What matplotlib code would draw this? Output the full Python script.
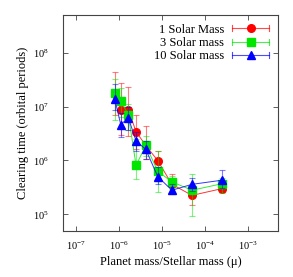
import matplotlib
matplotlib.use('Agg')
import matplotlib.pyplot as plt
from matplotlib.legend_handler import HandlerBase
from matplotlib.lines import Line2D
import numpy as np

plt.rcParams['font.family'] = ['Liberation Serif', 'DejaVu Serif']
plt.rcParams['mathtext.fontset'] = 'stix'

# planet/star mass ratio (same for all series)
mu = [8e-7, 1.1e-6, 1.65e-6, 2.5e-6, 4.2e-6, 8e-6, 1.7e-5, 5e-5, 2.5e-4]

labels = ['1 Solar Mass', '3 Solar mass', '10 Solar mass']

t_1 = [1.7e7, 8.8e6, 8.8e6, 3.4e6, 1.9e6, 9.9e5, 3.6e5, 2.25e5, 3.0e5]
lo_1 = [7.1e6, 3.0e6, 2.8e6, 1.6e6, 1.05e6, 6.8e5, 2.35e5, 1.47e5, 2.6e5]
hi_1 = [4.3e7, 2.75e7, 2.28e7, 7.1e6, 4.3e6, 1.47e6, 5.7e5, 3.4e5, 4.1e5]

t_3 = [1.8e7, 1.25e7, 7.1e6, 8.1e5, 1.9e6, 6.3e5, 4.0e5, 2.8e5, 3.7e5]
lo_3 = [5.7e6, 6.3e6, 3.7e6, 4.6e5, 1.2e6, 2.6e5, 3.0e5, 9.3e4, 2.45e5]
hi_3 = [3.2e7, 2.2e7, 1.1e7, 2.45e6, 2.8e6, 1.48e6, 5.2e5, 5.5e5, 4.8e5]

t_10 = [1.4e7, 4.6e6, 6.2e6, 2.3e6, 1.6e6, 5.0e5, 2.8e5, 3.6e5, 4.3e5]
lo_10 = [8.5e6, 2.7e6, 3.7e6, 1.48e6, 1.05e6, 3.6e5, 2.6e5, 2.7e5, 3.1e5]
hi_10 = [2.6e7, 7.7e6, 9.6e6, 3.3e6, 2.3e6, 7.4e5, 3.6e5, 4.8e5, 6.6e5]

colors = ['#ff0000', '#00e600', '#0000ff']
markers = ['o', 's', '^']


class HandlerGnuplot(HandlerBase):
    '''legend sample: horizontal line with end caps and a marker'''
    def __init__(self, color, marker):
        super().__init__()
        self.color = color
        self.marker = marker

    def create_artists(self, legend, orig_handle, xdescent, ydescent,
                       width, height, fontsize, trans):
        y = height / 2 - ydescent
        c = height * 0.35
        arts = [Line2D([0, width], [y, y], color=self.color, lw=0.8, alpha=0.7),
                Line2D([0, 0], [y - c, y + c], color=self.color, lw=0.8, alpha=0.7),
                Line2D([width, width], [y - c, y + c], color=self.color, lw=0.8, alpha=0.7),
                Line2D([width / 2], [y], color=self.color, marker=self.marker,
                       markersize=5.5, lw=0)]
        for a in arts:
            a.set_transform(trans)
        return arts


fig = plt.figure(figsize=(2.93, 2.77), dpi=100)
ax = fig.add_axes([0.215, 0.166, 0.734, 0.78])

handles = []
for t, lo, hi, col, mk in [(t_1, lo_1, hi_1, colors[0], markers[0]),
                           (t_3, lo_3, hi_3, colors[1], markers[1]),
                           (t_10, lo_10, hi_10, colors[2], markers[2])]:
    t = np.array(t)
    yerr = [t - np.array(lo), np.array(hi) - t]
    ax.errorbar(mu, t, yerr=yerr, fmt='none', ecolor=col, elinewidth=0.8,
                capsize=2, capthick=0.8, alpha=0.5)
    ln, = ax.plot(mu, t, color=col, lw=0.7, alpha=0.8)
    ax.plot(mu, t, lw=0, marker=mk, color=col, markersize=5.5)
    handles.append(ln)

ax.set_xscale('log')
ax.set_yscale('log')
ax.set_xlim(5e-8, 5e-3)
ax.set_ylim(4.9e4, 5e8)
ax.set_xticks([1e-7, 1e-6, 1e-5, 1e-4, 1e-3])
ax.set_yticks([1e5, 1e6, 1e7, 1e8])
ax.minorticks_off()
ax.tick_params(which='both', direction='in', top=True, right=True,
               length=3.5, width=0.6, labelsize=7.5, color='#444444')
ax.tick_params(axis='y', pad=10)
ax.tick_params(axis='x', pad=6)
for s in ax.spines.values():
    s.set_color('#444444')
    s.set_linewidth(0.8)

ax.set_xlabel('Planet mass/Stellar mass (μ)', fontsize=9, labelpad=3)
ax.set_ylabel('Clearing time (orbital periods)', fontsize=9, labelpad=3)

hmap = {h: HandlerGnuplot(c, m) for h, c, m in zip(handles, colors, markers)}
ax.legend(handles, labels, loc='upper right', frameon=False, fontsize=9,
          markerfirst=False, handlelength=3.0, handletextpad=0.6,
          labelspacing=0.1, borderaxespad=0.3, handler_map=hmap)

plt.savefig('out.png', dpi=100)
